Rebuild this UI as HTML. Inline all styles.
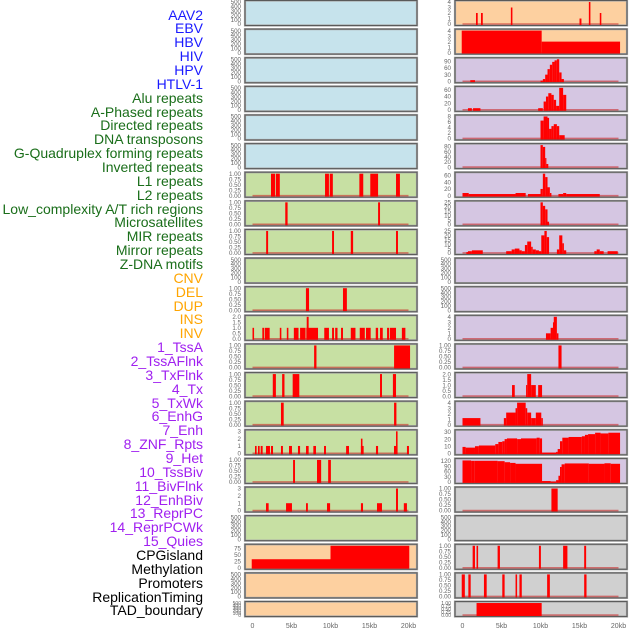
<!DOCTYPE html>
<html><head><meta charset="utf-8">
<style>
body{margin:0;background:#fff;width:630px;height:630px;overflow:hidden;font-family:"Liberation Sans",sans-serif;}
#labels{position:absolute;left:0;top:0;width:203px;}
.lab{position:absolute;right:0;font-size:14px;line-height:14px;white-space:nowrap;text-align:right;}
svg{position:absolute;left:0;top:0;}
</style></head>
<body>
<div id="labels"></div>
<svg id="chart" width="630" height="630"></svg>
<script>
const labelNames=["AAV2","EBV","HBV","HIV","HPV","HTLV-1","Alu repeats","A-Phased repeats","Directed repeats","DNA transposons","G-Quadruplex forming repeats","Inverted repeats","L1 repeats","L2 repeats","Low_complexity A/T rich regions","Microsatellites","MIR repeats","Mirror repeats","Z-DNA motifs","CNV","DEL","DUP","INS","INV","1_TssA","2_TssAFlnk","3_TxFlnk","4_Tx","5_TxWk","6_EnhG","7_Enh","8_ZNF_Rpts","9_Het","10_TssBiv","11_BivFlnk","12_EnhBiv","13_ReprPC","14_ReprPCWk","15_Quies","CPGisland","Methylation","Promoters","ReplicationTiming","TAD_boundary"];
const labelGroups=[6,13,5,15,5];
const groupColors=["#1a1aff","#1a6e1a","#ffa500","#a020f0","#000000"];

// x axis
const xTicks=[0,5,10,15,20];
const xTickLabels=["0","5kb","10kb","15kb","20kb"];

// tick sets
const T500=["0","100","200","300","400","500"], V500=[0,100,200,300,400,500];
const TP=["0.00","0.25","0.50","0.75","1.00"], VP=[0,0.25,0.5,0.75,1];
const T2=["0.0","0.5","1.0","1.5","2.0"], V2=[0,0.5,1,1.5,2];
const T3=["0","1","2","3"], V3=[0,1,2,3];
const T4=["0","1","2","3","4"], V4=[0,1,2,3,4];

// left column data [startKb, endKb, value]
const L6=[[2.37,2.9,1],[3.0,3.5,1],[9.3,9.8,1],[9.9,10.3,1],[13.7,14.2,1],[15.1,16.1,1],[18.4,18.9,1]];
const L7=[[4.2,4.5,1],[16.1,16.35,1]];
const L8=[[1.75,2.0,1],[10.2,10.45,1],[12.6,12.9,1],[18.4,18.65,1]];
const L10=[[6.85,7.25,1],[11.6,12.1,1]];
const L11=[[0,0.2,1],[1.26,1.51,1],[1.6,2.2,1],[3.5,3.7,1],[4.4,4.6,1],[5.3,5.9,1],[6.1,6.8,1],[6.9,8.4,1],[6.95,7.2,2],[9.2,9.8,1],[10.2,10.45,1],[10.6,10.9,1],[11.35,11.6,1],[12.6,13.2,1],[13.75,14.4,1],[14.55,15.15,1],[15.8,16.1,1],[16.35,16.7,1],[17.25,17.5,1],[17.6,18.4,1],[19.15,19.6,1]];
const L12=[[7.9,8.2,1],[18.15,20.2,1]];
const L13=[[2.6,3.0,1],[3.8,4.1,1],[5.15,6.0,1],[16.35,16.6,1],[18.0,18.4,1]];
const L14=[[3.65,4.0,1],[18.15,18.45,1]];
const L15=[[0.32,0.53,1],[0.7,0.92,1],[1.05,1.3,1],[1.73,2.24,1],[2.37,2.63,1],[3.65,3.9,1],[4.68,5.06,1],[5.83,6.1,1],[6.86,7.2,1],[7.8,8.14,1],[9.17,9.42,1],[12.0,12.37,1],[13.9,14.25,1],[13.9,14.1,2],[15.83,16.1,1],[18.14,18.4,1],[18.4,18.6,3],[19.8,20.06,1]];
const L16=[[5.2,5.45,1],[8.27,8.8,1],[9.7,10.05,1]];
const L17=[[1.73,2.07,1],[4.3,5.06,1],[6.86,7.1,1],[9.55,9.95,1],[13.9,14.17,1],[15.96,16.6,1],[18.4,18.65,3],[19.4,19.8,1]];
const L19=[[-0.1,10.0,33],[10.0,20.1,85]];

// right column data
const R0=[[1.73,1.95,2],[2.37,2.6,2],[6.2,6.4,3],[15.0,15.25,1],[16.2,16.4,4],[17.6,17.8,2]];
const R1=[[-0.1,10.15,4],[10.15,20.2,2]];
const R2=[[1.0,1.6,5],[10.0,10.3,3],[10.3,10.6,10],[10.6,10.9,30],[10.9,11.2,55],[11.2,11.5,75],[11.5,11.8,88],[11.8,12.1,95],[12.1,12.4,100],[12.4,12.7,40],[12.7,13.0,10]];
const R3=[[0.7,1.2,5],[1.35,2.3,5],[9.7,10.3,5],[10.4,10.7,25],[10.7,11.0,40],[11.0,11.4,50],[11.4,11.7,45],[11.7,12.0,30],[12.0,12.4,12],[12.4,12.9,68],[12.9,13.3,45]];
const R4=[[10.0,10.4,6.5],[10.4,10.9,8],[10.9,11.1,7.5],[11.1,11.4,3.5],[11.4,11.7,4.5],[11.7,12.1,5.2],[12.1,12.4,4.5],[12.4,13.1,1.2]];
const R5=[[10.0,10.3,85],[10.3,10.6,78],[10.6,10.75,35],[10.75,11.0,12]];
const R6=[[0,0.8,8],[0.8,6.8,5],[6.8,8.1,8],[8.4,10.0,5],[10.0,10.3,20],[10.3,10.6,65],[10.6,10.9,55],[10.9,11.2,25],[11.2,11.4,8],[12.3,12.9,5],[12.9,13.3,8],[13.3,17.6,5]];
const R7=[[10.0,10.3,25],[10.3,10.6,21],[10.6,10.9,17],[10.9,11.1,3]];
const R8=[[0.5,0.7,1],[0.7,1.2,2],[1.2,2.6,3],[5.6,6.3,2],[6.3,6.7,4],[6.7,7.3,5],[7.3,7.6,3],[7.6,8.0,2],[8.0,8.3,9],[8.3,8.8,13],[8.8,9.0,7],[9.0,9.4,4],[9.4,9.8,3],[9.8,10.1,2],[10.1,10.5,20],[10.5,10.8,25],[10.8,11.1,18],[12.1,12.4,4],[12.4,12.8,20],[12.8,13.0,11],[13.0,13.3,3],[16.9,17.2,2],[17.2,17.6,4],[17.6,18.1,2],[18.6,19.9,2]];
const R11=[[10.7,11.3,1],[11.3,11.6,2],[11.6,11.7,3],[11.7,12.1,4],[12.1,12.3,1]];
const R12=[[12.3,12.7,1]];
const R13=[[6.35,6.7,1],[8.15,8.3,1],[8.3,8.8,2],[8.8,9.4,1],[9.7,10.2,1]];
const R14=[[0,2.3,1.2],[5.3,5.6,1.2],[5.6,6.8,2.2],[6.8,7.0,3],[7.0,8.1,4],[8.1,8.3,3],[8.3,8.8,2.2],[8.8,9.4,1.2],[9.4,10.1,2.2],[10.1,10.3,1.2]];
const R15=[[0,0.4,9],[0.4,1.6,8],[1.6,2.1,10],[2.1,4.2,11],[4.2,4.6,13],[4.6,5.1,16],[5.1,5.4,17],[5.4,5.7,20],[5.7,7.0,21],[7.0,7.5,20],[7.5,9.5,21],[9.5,9.9,22],[9.9,10.2,21],[10.2,12.0,1],[12.0,12.2,2],[12.2,12.5,6],[12.5,12.8,17],[12.8,13.6,22],[13.6,15.3,23],[15.3,15.7,24],[15.7,16.1,26],[16.1,17.0,27],[17.0,17.7,29],[17.7,18.7,28],[18.7,20.2,29]];
const R16=[[0,1.1,122],[1.1,1.5,120],[1.5,4.5,120],[4.5,5.4,118],[5.4,6.1,112],[6.1,6.8,108],[6.8,10.2,103],[10.2,11.3,5],[11.3,12.0,1],[12.0,12.3,10],[12.3,12.5,35],[12.5,12.7,85],[12.7,13.1,100],[13.1,16.2,105],[16.2,18.2,103],[18.2,19.0,106],[19.0,20.2,103]];
const R17=[[11.4,12.2,1]];
const R19=[[1.3,1.6,1],[1.8,2.0,1],[4.5,4.8,1],[9.8,10.05,1],[12.9,13.45,1],[15.6,15.85,1]];
const R20=[[-0.1,0.3,1],[0.75,1.05,1],[2.75,3.1,1],[5.1,5.4,1],[6.8,7.0,1],[7.3,7.6,1],[10.85,11.2,1],[15.6,15.9,1]];
const R21=[[1.8,10.15,1]];

const BLUE="#c6e3ec",GREEN="#c7e0a3",PEACH="#fdd0a0",LAV="#d5c6e2",GREY="#d0d0d0";
// [data, ymax, tickValues, tickLabels, background]
const leftRows=[
[null,500,V500,T500,BLUE],[null,500,V500,T500,BLUE],[null,500,V500,T500,BLUE],[null,500,V500,T500,BLUE],[null,500,V500,T500,BLUE],[null,500,V500,T500,BLUE],
[L6,1,VP,TP,GREEN],[L7,1,VP,TP,GREEN],[L8,1,VP,TP,GREEN],[null,500,V500,T500,GREEN],[L10,1,VP,TP,GREEN],[L11,2,V2,T2,GREEN],
[L12,1,VP,TP,GREEN],[L13,1,VP,TP,GREEN],[L14,1,VP,TP,GREEN],[L15,3,V3,T3,GREEN],[L16,1,VP,TP,GREEN],[L17,3,V3,T3,GREEN],[null,500,V500,T500,GREEN],
[L19,85,[0,25,50,75],["0","25","50","75"],PEACH],[null,500,V500,T500,PEACH],[null,500,V500,T500,PEACH]];
const rightRows=[
[R0,4,V4,T4,PEACH],[R1,4,V4,T4,PEACH],
[R2,100,[0,30,60,90],["0","30","60","90"],LAV],[R3,66,[0,20,40,60],["0","20","40","60"],LAV],[R4,8,[0,2,4,6,8],["0","2","4","6","8"],LAV],
[R5,85,[0,20,40,60,80],["0","20","40","60","80"],LAV],[R6,65,[0,20,40,60],["0","20","40","60"],LAV],[R7,25,[0,5,10,15,20,25],["0","5","10","15","20","25"],LAV],
[R8,25,[0,5,10,15,20,25],["0","5","10","15","20","25"],LAV],[null,500,V500,T500,LAV],[null,500,V500,T500,LAV],[R11,4,V4,T4,LAV],
[R12,1,VP,TP,LAV],[R13,2,V2,T2,LAV],[R14,4,V4,T4,LAV],[R15,31,[0,10,20,30],["0","10","20","30"],LAV],[R16,125,[0,30,60,90,120],["0","30","60","90","120"],LAV],
[R17,1,VP,TP,GREY],[null,500,V500,T500,GREY],[R19,1,VP,TP,GREY],[R20,1,VP,TP,GREY],[R21,1,VP,TP,GREY]];

// labels
const labDiv=document.getElementById('labels');
let gi=0,cnt=0;
labelNames.forEach((n,i)=>{
  while(cnt>=labelGroups[gi]){cnt=0;gi++;}
  const d=document.createElement('div');
  d.className='lab';
  d.style.top=(15+i*13.86-7.5)+'px';
  d.style.color=groupColors[gi];
  d.textContent=n;
  
  
  labDiv.appendChild(d);
  cnt++;
});

const NS="http://www.w3.org/2000/svg";
const svg=document.getElementById('chart');
function mk(tag,attrs,parent){const e=document.createElementNS(NS,tag);for(const k in attrs)e.setAttribute(k,attrs[k]);(parent||svg).appendChild(e);return e;}
const PW=172, XOFF=7.5, KB=7.8, ROWP=28.62;
function xs(px,kb){return px+XOFF+kb*KB;}
function drawPanel(px,i,row,side){
  const [data,ymax,tv,tl,bg]=row;
  const top=i*ROWP, H=(i===21?15:25);
  const g=mk('g',{});
  
  
  mk('rect',{x:px,y:top+0.5,width:PW,height:H,fill:bg,stroke:'#a8a8a8','stroke-width':2.2},g);
  const ys=v=>top+0.5+H-1.5-Math.min(v,ymax)/ymax*(H-3);
  if(data){
    mk('line',{x1:xs(px,0),x2:xs(px,20),y1:ys(0),y2:ys(0),stroke:'rgba(200,30,30,0.55)','stroke-width':1.6},g);
    data.forEach(s=>{
      const x1=Math.max(xs(px,s[0]),px+1), x2=Math.min(xs(px,s[1]),px+PW-1);
      const b=mk('rect',{x:x1,y:ys(s[2]),width:Math.max(x2-x1,1.2),height:ys(0)-ys(s[2])+1,fill:'#ff0000'},g);
      
      
    });
  }
  mk('rect',{x:px,y:top+0.5,width:PW,height:H,fill:'none',stroke:'#5a5a5a','stroke-width':1},g);
  tv.forEach((v,k)=>{
    const t=mk('text',{x:px-4,y:ys(v)+2.2,'text-anchor':'end','font-size':(i===21?5:6.2),fill:'#666','font-family':'Liberation Sans, sans-serif'},g);
    t.textContent=tl[k];
  });
}
leftRows.forEach((r,i)=>drawPanel(245,i,r,'left'));
rightRows.forEach((r,i)=>drawPanel(455,i,r,'right'));
[245,455].forEach(px=>{
  xTicks.forEach((v,k)=>{
    const t=mk('text',{x:xs(px,v),y:628,'text-anchor':'middle','font-size':7,fill:'#666','font-family':'Liberation Sans, sans-serif'});
    
    
    t.textContent=xTickLabels[k];
  });
});
</script>
</body></html>
